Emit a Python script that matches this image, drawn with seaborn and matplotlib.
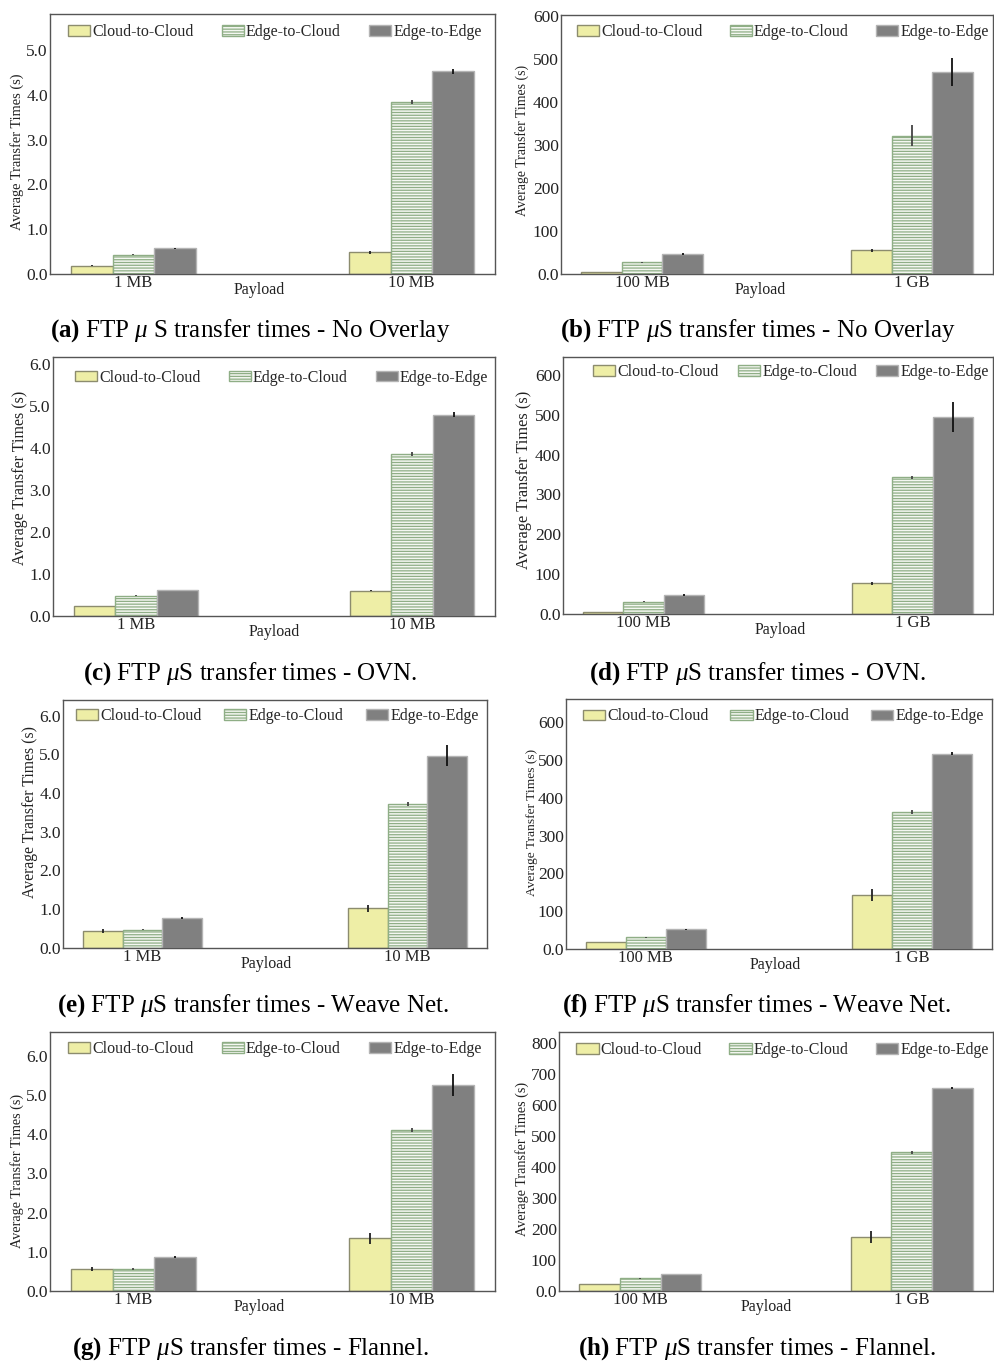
import matplotlib
matplotlib.use('Agg')
import matplotlib.pyplot as plt
import seaborn as sns
import pandas as pd
import numpy as np
from matplotlib.patches import Patch

sns.set_theme(style='white')
plt.rcParams['font.family'] = ['Liberation Serif', 'DejaVu Serif']
plt.rcParams['mathtext.fontset'] = 'custom'
plt.rcParams['mathtext.rm'] = 'Liberation Serif'
plt.rcParams['mathtext.it'] = 'Liberation Serif:italic'
plt.rcParams['mathtext.bf'] = 'Liberation Serif:bold'
plt.rcParams['hatch.linewidth'] = 0.9

# ---------------- data ----------------
paths = ['Cloud-to-Cloud', 'Edge-to-Cloud', 'Edge-to-Edge']
payload_small = ['1 MB', '10 MB']
payload_large = ['100 MB', '1 GB']

# (a) No Overlay, small payloads
a_c2c = [0.18, 0.48]; a_c2c_err = [0.01, 0.03]
a_e2c = [0.43, 3.84]; a_e2c_err = [0.01, 0.05]
a_e2e = [0.57, 4.52]; a_e2e_err = [0.01, 0.06]
# (b) No Overlay, large payloads
b_c2c = [4, 55];   b_c2c_err = [0.5, 3]
b_e2c = [27, 322]; b_e2c_err = [2, 25]
b_e2e = [47, 470]; b_e2e_err = [2, 32]
# (c) OVN, small payloads
c_c2c = [0.24, 0.60]; c_c2c_err = [0.01, 0.01]
c_e2c = [0.48, 3.86]; c_e2c_err = [0.01, 0.05]
c_e2e = [0.62, 4.80]; c_e2e_err = [0.01, 0.07]
# (d) OVN, large payloads
d_c2c = [5, 77];   d_c2c_err = [0.5, 3]
d_e2c = [31, 343]; d_e2c_err = [1, 3]
d_e2e = [47, 495]; d_e2e_err = [2, 38]
# (e) Weave Net, small payloads
e_c2c = [0.45, 1.02]; e_c2c_err = [0.05, 0.10]
e_e2c = [0.47, 3.72]; e_e2c_err = [0.01, 0.05]
e_e2e = [0.77, 4.96]; e_e2e_err = [0.03, 0.27]
# (f) Weave Net, large payloads
f_c2c = [18, 143]; f_c2c_err = [0.5, 15]
f_e2c = [31, 363]; f_e2c_err = [1, 5]
f_e2e = [52, 516]; f_e2e_err = [1, 4]
# (g) Flannel, small payloads
g_c2c = [0.55, 1.35]; g_c2c_err = [0.05, 0.14]
g_e2c = [0.56, 4.10]; g_e2c_err = [0.02, 0.06]
g_e2e = [0.87, 5.25]; g_e2e_err = [0.03, 0.27]
# (h) Flannel, large payloads
h_c2c = [22, 175]; h_c2c_err = [0.5, 19]
h_e2c = [41, 447]; h_e2c_err = [1, 5]
h_e2e = [55, 655]; h_e2e_err = [1, 4]

small_ticks = [0, 1, 2, 3, 4, 5, 6]
small_ticklabels = ['0.0', '1.0', '2.0', '3.0', '4.0', '5.0', '6.0']
large_ticks = [0, 100, 200, 300, 400, 500, 600, 700, 800]
large_ticklabels = ['0.0', '100', '200', '300', '400', '500', '600', '700', '800']

captions = [
    (r'$\mathbf{(a)}$ FTP $\mu$ S transfer times - No Overlay'),
    (r'$\mathbf{(b)}$ FTP $\mu$S transfer times - No Overlay'),
    (r'$\mathbf{(c)}$ FTP $\mu$S transfer times - OVN.'),
    (r'$\mathbf{(d)}$ FTP $\mu$S transfer times - OVN.'),
    (r'$\mathbf{(e)}$ FTP $\mu$S transfer times - Weave Net.'),
    (r'$\mathbf{(f)}$ FTP $\mu$S transfer times - Weave Net.'),
    (r'$\mathbf{(g)}$ FTP $\mu$S transfer times - Flannel.'),
    (r'$\mathbf{(h)}$ FTP $\mu$S transfer times - Flannel.'),
]

panels = [
    (payload_small, [a_c2c, a_e2c, a_e2e], [a_c2c_err, a_e2c_err, a_e2e_err], 5),
    (payload_large, [b_c2c, b_e2c, b_e2e], [b_c2c_err, b_e2c_err, b_e2e_err], 600),
    (payload_small, [c_c2c, c_e2c, c_e2e], [c_c2c_err, c_e2c_err, c_e2e_err], 6),
    (payload_large, [d_c2c, d_e2c, d_e2e], [d_c2c_err, d_e2c_err, d_e2e_err], 600),
    (payload_small, [e_c2c, e_e2c, e_e2e], [e_c2c_err, e_e2c_err, e_e2e_err], 6),
    (payload_large, [f_c2c, f_e2c, f_e2e], [f_c2c_err, f_e2c_err, f_e2e_err], 600),
    (payload_small, [g_c2c, g_e2c, g_e2e], [g_c2c_err, g_e2c_err, g_e2e_err], 6),
    (payload_large, [h_c2c, h_e2c, h_e2e], [h_c2c_err, h_e2c_err, h_e2e_err], 800),
]

# ---------------- layout (pixels) ----------------
W, H = 994, 1363
boxes = [(50, 14, 495, 274), (561, 15, 993, 274),
         (53, 357, 495, 616), (563, 357, 993, 614),
         (63, 700, 487, 948), (566, 699, 992, 949),
         (50, 1032, 495, 1291), (559, 1032, 993, 1291)]
ytops = [5.8, 603, 6.17, 645, 6.4, 661, 6.6, 835]
xlabel_x = [0.47, 0.46, 0.50, 0.505, 0.48, 0.49, 0.47, 0.477]
ylabel_off = [33, 39, 33, 39, 33, 34, 33, 37]
ylabel_dy = [8, -4, -9, -6, -12, -2, 9, -3]
ylabel_size = [10.4, 10.0, 11.5, 11.8, 11.3, 9.7, 10.2, 10.2]
legend_x = [(0.04, 0.97), (0.037, 0.99), (0.05, 0.985), (0.07, 0.99),
            (0.03, 0.98), (0.04, 0.98), (0.04, 0.97), (0.04, 0.99)]
legend_y = [0.93, 0.935, 0.92, 0.94, 0.935, 0.93, 0.935, 0.93]
cap_pos = [(250, 331), (758, 331), (250, 674), (758, 674),
           (253, 1006), (757, 1006), (250, 1349), (757, 1349)]

face = {'Cloud-to-Cloud': '#eeeea6', 'Edge-to-Cloud': '#f4f7f1', 'Edge-to-Edge': '#808080'}
edge = {'Cloud-to-Cloud': '#8c8c6e', 'Edge-to-Cloud': '#8fae86', 'Edge-to-Edge': '#b4b4b4'}
hatch = {'Cloud-to-Cloud': None, 'Edge-to-Cloud': '------', 'Edge-to-Edge': None}
ecol = {'Cloud-to-Cloud': '#222222', 'Edge-to-Cloud': '#444444', 'Edge-to-Edge': '#111111'}

fig = plt.figure(figsize=(W / 100, H / 100), dpi=100)

for i, (cats, series, errs, ymaxtick) in enumerate(panels):
    x0, y0, x1, y1 = boxes[i]
    ax = fig.add_axes([x0 / W, 1 - y1 / H, (x1 - x0) / W, (y1 - y0) / H])
    rows = []
    for p, vals in zip(paths, series):
        for c, v in zip(cats, vals):
            rows.append({'payload': c, 'time': v, 'path': p})
    df = pd.DataFrame(rows)
    sns.barplot(data=df, x='payload', y='time', hue='path', order=cats, hue_order=paths,
                palette=face, saturation=1, errorbar=None, width=0.45, ax=ax,
                legend=False)
    for cont, p, er in zip(ax.containers, paths, errs):
        for bar in cont:
            bar.set_edgecolor(edge[p])
            bar.set_linewidth(1.0)
            if hatch[p]:
                bar.set_hatch(hatch[p])
        xs = [b.get_x() + b.get_width() / 2 for b in cont]
        hs = [b.get_height() for b in cont]
        ax.errorbar(xs, hs, yerr=er, fmt='none', ecolor=ecol[p], elinewidth=1.3,
                    capsize=0, zorder=5)

    ax.set_xlim(-0.3, 1.3)
    ax.set_ylim(0, ytops[i])
    if ymaxtick < 100:
        t = [v for v in small_ticks if v <= ymaxtick]
        ax.set_yticks(t)
        ax.set_yticklabels(small_ticklabels[:len(t)])
    else:
        t = [v for v in large_ticks if v <= ymaxtick]
        ax.set_yticks(t)
        ax.set_yticklabels(large_ticklabels[:len(t)])
    ax.tick_params(axis='y', length=0, pad=1.5, labelsize=12.5, colors='#222222')
    ax.tick_params(axis='x', length=0, pad=1.0, labelsize=12, colors='#222222')
    for s in ax.spines.values():
        s.set_color('#555555')
        s.set_linewidth(1.0)
        s.set_visible(True)

    ax.set_xlabel('Payload', fontsize=11.5, color='#222222')
    ax.xaxis.label.set_va('center')
    ax.xaxis.set_label_coords(xlabel_x[i], -16 / (y1 - y0))
    ax.set_ylabel('Average Transfer Times (s)', fontsize=ylabel_size[i], color='#222222')
    ax.yaxis.label.set_va('center')
    ax.yaxis.set_label_coords(-ylabel_off[i] / (x1 - x0), 0.5 - ylabel_dy[i] / (y1 - y0))

    handles = [Patch(facecolor=face[p], edgecolor=edge[p], hatch=hatch[p], linewidth=1.0)
               for p in paths]
    lx0, lx1 = legend_x[i]
    ax.legend(handles, paths, ncol=3, loc='center', mode='expand',
              bbox_to_anchor=(lx0, legend_y[i], lx1 - lx0, 0), frameon=False,
              fontsize=11.5, handlelength=1.4, handleheight=0.65, handletextpad=0.12,
              borderaxespad=0, borderpad=0)

    cx, cy = cap_pos[i]
    fig.text(cx / W, 1 - cy / H, captions[i], ha='center', va='center',
             fontsize=18, color='#000000')

fig.savefig('out.png', dpi=100)
